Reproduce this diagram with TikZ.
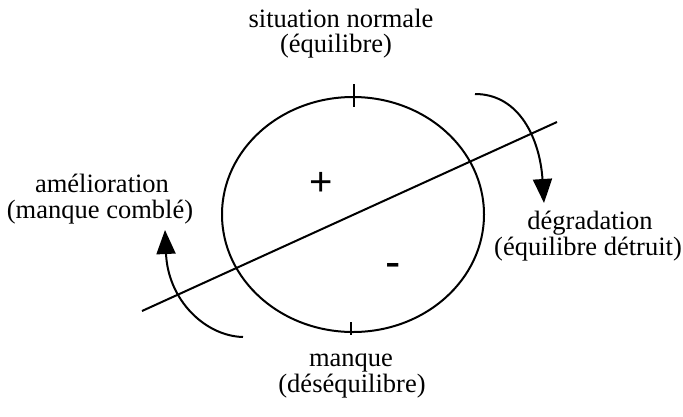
\documentclass[tikz,border=0pt]{standalone}
\usepackage{fontspec}
\setmainfont{Liberation Serif}
\newfontfamily\symfont{Liberation Sans}
\usetikzlibrary{shapes.geometric,arrows.meta}
\begin{document}
\begin{tikzpicture}[x=1pt,y=-1pt,
  lbl/.style={font=\fontsize{26.5}{26.5}\selectfont, inner sep=0pt, anchor=base},
  sgn/.style={font=\symfont\fontsize{40}{40}\selectfont, inner sep=0pt, anchor=base},
  stroke/.style={line width=2pt},
  flow/.style={stroke, -{Triangle[length=24pt,width=19pt]}}]
\useasboundingbox (0,0) rectangle (683,416);
% circle of states
\node[draw, stroke, ellipse, minimum width=262pt, minimum height=235pt, inner sep=0pt] (E) at (353,214.5) {};
% ticks
\coordinate (TT1) at (354,84);
\coordinate (TT2) at (354,107);
\coordinate (BT1) at (351,322);
\coordinate (BT2) at (351,335);
\draw[stroke] (TT1) -- (TT2);
\draw[stroke] (BT1) -- (BT2);
% dividing line
\coordinate (L1) at (142,311);
\coordinate (L2) at (557,122);
\draw[stroke] (L1) -- (L2);
% arrows
\coordinate (R0) at (475,94);
\coordinate (R1) at (544,203);
\draw[flow] (R0) .. controls (520,94) and (540,140) .. (R1);
\coordinate (A0) at (243,337);
\coordinate (A1) at (165,230);
\draw[flow] (A0) .. controls (205,336) and (168,300) .. (A1);
% signs
\node[sgn] (plus) at (320.7,195.4) {+};
\node[sgn, font=\symfont\fontsize{46}{46}\selectfont] (minus) at (393,277) {-};
% labels
\node[lbl] (top1) at (341,27) {situation normale};
\node[lbl] (top2) at (336,52) {(équilibre)};
\node[lbl] (left1) at (102,192) {amélioration};
\node[lbl] (left2) at (100,218) {(manque comblé)};
\node[lbl] (right1) at (590,229) {dégradation};
\node[lbl] (right2) at (588,255) {(équilibre détruit)};
\node[lbl] (bot1) at (351,366) {manque};
\node[lbl] (bot2) at (352,392) {(déséquilibre)};
\end{tikzpicture}
\end{document}
